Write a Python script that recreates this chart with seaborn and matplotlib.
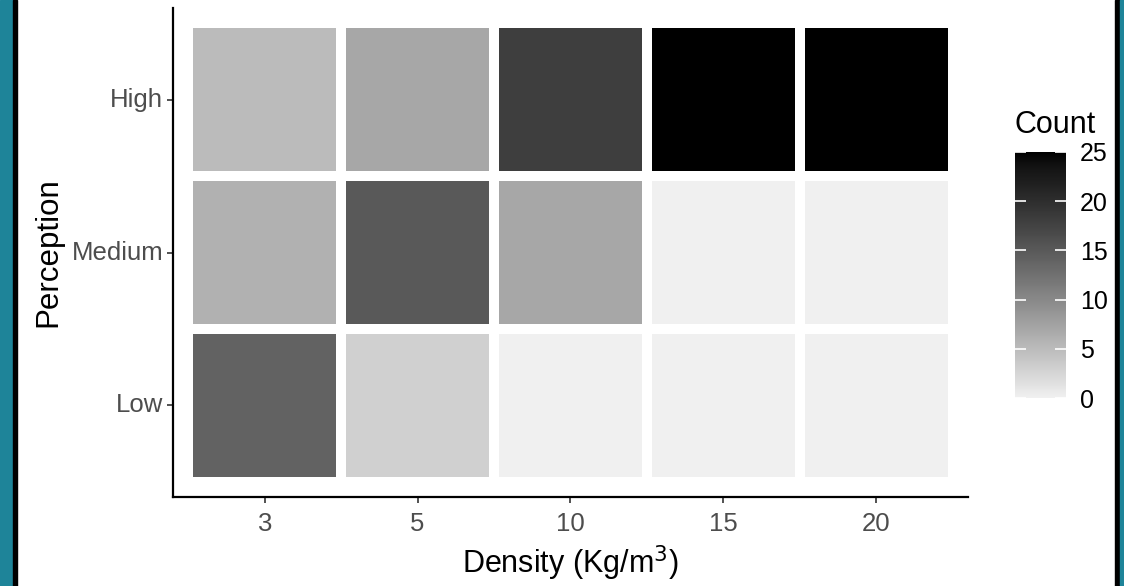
import matplotlib

matplotlib.use("Agg")
import matplotlib.pyplot as plt
from matplotlib.colors import ListedColormap
from matplotlib.patches import Rectangle
import numpy as np
import pandas as pd
import seaborn as sns

# data
densities = ["3", "5", "10", "15", "20"]
perception = ["High", "Medium", "Low"]
count_high = [5, 7, 18, 25, 25]
count_medium = [6, 15, 7, 0, 0]
count_low = [14, 3, 0, 0, 0]

table = pd.DataFrame(
    [count_high, count_medium, count_low], index=perception, columns=densities
)


def lab_gray_cmap(low=240, n=256):
    """Grey ramp from `low` to black, linear in CIE L* like ggplot's gradient."""
    def to_L(v):
        c = v / 255.0
        lin = ((c + 0.055) / 1.055) ** 2.4 if c > 0.04045 else c / 12.92
        f = lin ** (1 / 3) if lin > 0.008856 else 7.787 * lin + 16 / 116
        return 116 * f - 16

    L = np.linspace(to_L(low), 0, n)
    f = (L + 16) / 116
    lin = np.where(f ** 3 > 0.008856, f ** 3, (f - 16 / 116) / 7.787)
    srgb = np.where(lin > 0.0031308, 1.055 * lin ** (1 / 2.4) - 0.055, 12.92 * lin)
    srgb = np.clip(srgb, 0, 1)
    return ListedColormap(np.stack([srgb, srgb, srgb], axis=1))


sns.set_theme(style="white")
plt.rcParams["font.family"] = ["Liberation Sans", "DejaVu Sans"]

fig = plt.figure(figsize=(11.24, 5.86), dpi=100)
ax = fig.add_axes([0.1539, 0.1519, 0.8612 - 0.1539, 0.9863 - 0.1519])
cax = fig.add_axes([0.903, 0.3208, 0.0454, 0.42])

sns.heatmap(
    table,
    ax=ax,
    cbar_ax=cax,
    cmap=lab_gray_cmap(),
    vmin=0,
    vmax=25,
    linewidths=7.2,
    linecolor="white",
    square=False,
)

ax.set_xlim(-0.1, 5.1)
ax.set_ylim(3.1, -0.1)
for side in ["top", "right"]:
    ax.spines[side].set_visible(False)
for side in ["left", "bottom"]:
    ax.spines[side].set_visible(True)
    ax.spines[side].set_color("black")
    ax.spines[side].set_linewidth(1.6)

ax.tick_params(axis="both", which="major", length=4, width=1.2, color="#333333",
               labelsize=18.5, labelcolor="#4d4d4d", left=True, bottom=True)
ax.tick_params(axis="x", pad=7)
ax.tick_params(axis="y", pad=3)
ax.set_yticklabels(perception, rotation=0)
ax.set_xticklabels(densities, rotation=0)
ax.set_xlabel("Density (Kg/m$^3$)", fontsize=22, color="black", labelpad=5)
ax.set_ylabel("Perception", fontsize=22.5, color="black", labelpad=6)

cbar = ax.collections[0].colorbar
cbar.outline.set_visible(False)
cbar.set_ticks([0, 5, 10, 15, 20, 25])
cax.set_axisbelow(False)
cax.yaxis.set_ticks_position("both")
cax.tick_params(axis="y", direction="in", length=8, width=1.2, color="white",
                labelsize=18, labelcolor="black", labelright=True, labelleft=False, pad=10)
fig.text(0.903, 1 - 133 / 586, "Count", fontsize=22, color="black",
         ha="left", va="baseline")

# framing strips from the screenshot
fig.patches.append(Rectangle((0, 0), 13 / 1124, 1, transform=fig.transFigure,
                             color="#1e8499", zorder=10))
fig.patches.append(Rectangle((13 / 1124, 0), 4 / 1124, 1, transform=fig.transFigure,
                             color="black", zorder=10))
fig.patches.append(Rectangle((1115 / 1124, 0), 5 / 1124, 1, transform=fig.transFigure,
                             color="black", zorder=10))
fig.patches.append(Rectangle((1120 / 1124, 0), 4 / 1124, 1, transform=fig.transFigure,
                             color="#1e8499", zorder=10))

fig.savefig("out.png", dpi=100)
plt.close(fig)
